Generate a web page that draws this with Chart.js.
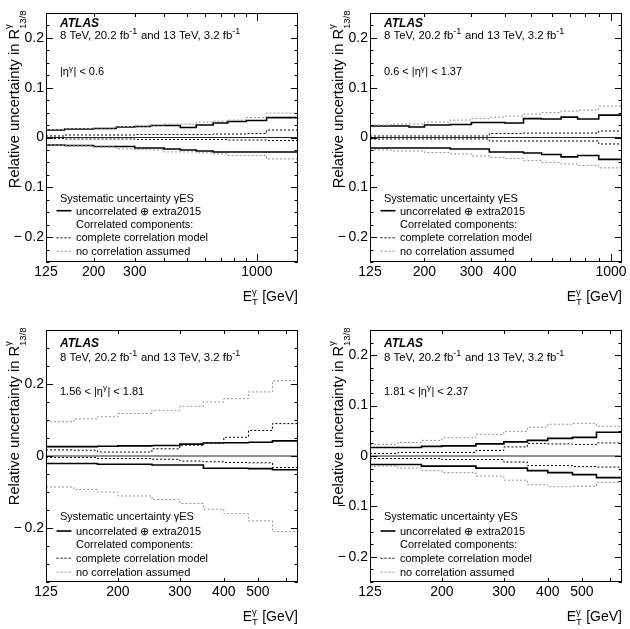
<!DOCTYPE html>
<html><head><meta charset="utf-8">
<script src="https://cdn.jsdelivr.net/npm/chart.js@4/dist/chart.umd.min.js"></script>
<style>
html,body{margin:0;padding:0;background:#fff;overflow:hidden}
#wrap{position:relative;width:630px;height:629px;background:#fff}
canvas{position:absolute}
</style></head><body><div id="wrap"></div>
<script>
// ---------------- data ----------------
const edgesP1 = [125,150,175,200,250,300,350,400,470,550,650,750,900,1100,1500];
const edgesP2 = [125,150,175,200,250,300,350,400,470,550,650,750,900,1100];
const edgesP34 = [125,150,175,200,250,300,350,400,470,550,650];

const p1UncUp = [0.015,0.017,0.017,0.018,0.021,0.022,0.024,0.024,0.020,0.025,0.029,0.032,0.034,0.040];
const p1UncDn = [-0.015,-0.016,-0.016,-0.018,-0.018,-0.021,-0.021,-0.023,-0.025,-0.027,-0.029,-0.029,-0.029,-0.029];
const p1CorUp = [0.003,0.005,0.005,0.005,0.005,0.006,0.006,0.006,0.006,0.006,0.007,0.007,0.008,0.015];
const p1CorDn = [-0.002,-0.003,-0.003,-0.003,-0.003,-0.004,-0.004,-0.004,-0.004,-0.004,-0.004,-0.005,-0.005,-0.006];
const p1NoUp  = [0.016,0.018,0.018,0.019,0.022,0.023,0.025,0.027,0.027,0.031,0.033,0.035,0.040,0.049];
const p1NoDn  = [-0.015,-0.017,-0.017,-0.019,-0.023,-0.024,-0.025,-0.029,-0.029,-0.031,-0.033,-0.036,-0.036,-0.043];

const p2UncUp = [0.023,0.023,0.021,0.025,0.026,0.030,0.030,0.029,0.038,0.037,0.041,0.037,0.045];
const p2UncDn = [-0.021,-0.021,-0.021,-0.021,-0.023,-0.023,-0.029,-0.029,-0.031,-0.034,-0.039,-0.036,-0.044];
const p2CorUp = [0.003,0.003,0.003,0.003,0.003,0.003,0.008,0.008,0.009,0.009,0.009,0.009,0.013];
const p2CorDn = [-0.003,-0.003,-0.003,-0.003,-0.003,-0.003,-0.007,-0.007,-0.007,-0.007,-0.007,-0.007,-0.013];
const p2NoUp  = [0.025,0.027,0.027,0.031,0.035,0.038,0.041,0.043,0.047,0.050,0.053,0.055,0.063];
const p2NoDn  = [-0.025,-0.027,-0.027,-0.030,-0.033,-0.037,-0.040,-0.042,-0.046,-0.050,-0.053,-0.056,-0.061];

const p3UncUp = [0.026,0.026,0.027,0.028,0.029,0.033,0.036,0.037,0.038,0.042];
const p3UncDn = [-0.021,-0.021,-0.023,-0.023,-0.025,-0.025,-0.034,-0.034,-0.035,-0.038];
const p3CorUp = [0.017,0.016,0.011,0.011,0.020,0.030,0.037,0.052,0.071,0.090];
const p3CorDn = [-0.004,-0.004,-0.007,-0.007,-0.009,-0.014,-0.016,-0.018,-0.019,-0.032];
const p3NoUp  = [0.095,0.103,0.109,0.118,0.127,0.138,0.150,0.159,0.178,0.209];
const p3NoDn  = [-0.086,-0.093,-0.100,-0.111,-0.121,-0.132,-0.148,-0.160,-0.180,-0.210];

const p4UncUp = [0.017,0.017,0.019,0.020,0.024,0.028,0.031,0.035,0.037,0.047];
const p4UncDn = [-0.017,-0.017,-0.020,-0.020,-0.024,-0.024,-0.029,-0.033,-0.037,-0.043];
const p4CorUp = [0.005,0.007,0.007,0.007,0.011,0.018,0.025,0.024,0.023,0.026];
const p4CorDn = [-0.005,-0.005,-0.005,-0.007,-0.007,-0.012,-0.019,-0.019,-0.021,-0.022];
const p4NoUp  = [0.023,0.027,0.031,0.036,0.043,0.049,0.057,0.063,0.065,0.059];
const p4NoDn  = [-0.020,-0.024,-0.029,-0.033,-0.040,-0.048,-0.057,-0.061,-0.060,-0.052];

const xTicksP1 = [125,200,300,1000];
const xTicksP2 = [125,200,300,400,1000];
const xTicksP34 = [125,200,300,400,500];
const xMinorP1 = [200,300,400,500,600,700,800,900,1000];
const xMinorP2 = [200,300,400,500,600,700,800,900,1000];
const xMinorP34 = [200,300,400,500,600];
const yTicksA = [-0.2,-0.1,0,0.1,0.2];
const yTicksB = [-0.2,0,0.2];

const etaLabels = [["|η","γ","| < 0.6"],["0.6 < |η","γ","| < 1.37"],["1.56 < |η","γ","| < 1.81"],["1.81 < |η","γ","| < 2.37"]];
const legendTexts = ["Systematic uncertainty γES","uncorrelated ⊕ extra2015","Correlated components:","complete correlation model","no correlation assumed"];

// ---------------- drawing ----------------
const FONT = "'Liberation Sans', Arial, Helvetica, sans-serif";
Chart.defaults.font.family = FONT;
const GRAY = '#939393';

function histPoints(edges, vals){
  const pts = vals.map((v,i)=>({x:edges[i], y:v}));
  pts.push({x:edges[edges.length-1], y:vals[vals.length-1]});
  return pts;
}
function f(size, style){ return (style||'') + ' ' + size + 'px ' + FONT; }

function drawRich(ctx, parts, x, y, align){
  const widths = parts.map(p=>{
    if (p.t !== undefined){ ctx.font = f(p.size,p.style); return ctx.measureText(p.t).width; }
    ctx.font = f(p.size); let w1 = p.sup?ctx.measureText(p.sup).width:0; let w2 = p.sub?ctx.measureText(p.sub).width:0;
    return Math.max(w1,w2)+0.5;
  });
  const total = widths.reduce((a,b)=>a+b,0);
  let cx = align==='right' ? x-total : x;
  parts.forEach((p,i)=>{
    if (p.t !== undefined){ ctx.font = f(p.size,p.style); ctx.fillText(p.t, cx, y); }
    else {
      ctx.font = f(p.size);
      if (p.sup) ctx.fillText(p.sup, cx, y + p.supDy);
      if (p.sub) ctx.fillText(p.sub, cx, y + p.subDy);
    }
    cx += widths[i];
  });
}

const atlasPlugin = {
  id:'atlas',
  afterDraw(chart){
    const o = chart.options.plugins.atlas;
    const ctx = chart.ctx, a = chart.chartArea;
    const xs = chart.scales.x, ys = chart.scales.y;
    ctx.save();
    ctx.strokeStyle = '#000'; ctx.fillStyle = '#000'; ctx.lineWidth = 1;
    ctx.strokeRect(a.left+0.5, a.top+0.5, a.right-a.left-1, a.bottom-a.top-1);
    ctx.beginPath();
    for (let v=o.ymin; v<=o.ymax+1e-9; v+=o.yMinorStep){
      const vv = Math.round(v/o.yMinorStep)*o.yMinorStep;
      const isMajor = o.yTicks.some(t=>Math.abs(t-vv)<1e-6);
      const len = isMajor ? 7 : 3.5;
      const py = Math.round(ys.getPixelForValue(vv))+0.5;
      ctx.moveTo(a.left, py); ctx.lineTo(a.left+len, py);
      ctx.moveTo(a.right, py); ctx.lineTo(a.right-len, py);
    }
    o.xMinor.forEach(v=>{
      if (v<=xs.min || v>=xs.max) return;
      const len = (v===1000) ? 8 : 4;
      const px = Math.round(xs.getPixelForValue(v))+0.5;
      ctx.moveTo(px, a.bottom); ctx.lineTo(px, a.bottom-len);
      ctx.moveTo(px, a.top); ctx.lineTo(px, a.top+len);
    });
    ctx.stroke();

    ctx.textBaseline = 'alphabetic'; ctx.textAlign = 'left';
    const tx = a.left + 14;
    ctx.font = f(12,'italic bold'); ctx.fillText('ATLAS', tx, o.ty[0]);
    drawRich(ctx, [{t:'8 TeV, 20.2 fb',size:11.4},{sup:'-1',size:9,supDy:-4.8},{t:' and 13 TeV, 3.2 fb',size:11.4},{sup:'-1',size:9,supDy:-4.8}], tx, o.ty[1]);
    const e = o.eta;
    drawRich(ctx, [{t:e[0],size:11},{sup:e[1],size:8,supDy:-4.5},{t:e[2],size:11}], tx, o.ty[2]);
    ctx.font = f(11);
    ctx.fillText(legendTexts[0], tx, o.ty[3]);
    const lx0 = a.left + 10.5, lx1 = a.left + 25.5, ltx = a.left + 30;
    ctx.fillText(legendTexts[1], ltx, o.ty[4]);
    ctx.fillText(legendTexts[2], ltx, o.ty[5]);
    ctx.fillText(legendTexts[3], ltx, o.ty[6]);
    ctx.fillText(legendTexts[4], ltx, o.ty[7]);
    const sample = (yy, color, lw, dash)=>{ ctx.beginPath(); ctx.setLineDash(dash); ctx.strokeStyle=color; ctx.lineWidth=lw; ctx.moveTo(lx0, yy); ctx.lineTo(lx1, yy); ctx.stroke(); };
    sample(o.ty[4]-4, '#000', 1.6, []);
    sample(o.ty[6]-4+0.5, '#000', 1, [2,2]);
    sample(o.ty[7]-4+0.5, GRAY, 1, [2,2]);
    ctx.setLineDash([]);
    ctx.fillStyle = '#000';
    drawRich(ctx, [{t:'E',size:14},{sup:'γ',sub:'T',size:9.5,supDy:-6,subDy:4},{t:' [GeV]',size:14}], a.right, a.bottom+38.5, 'right');
    ctx.save();
    ctx.translate(a.left-27.5, a.top-3);
    ctx.rotate(-Math.PI/2);
    drawRich(ctx, [{t:'Relative uncertainty in R',size:14.7},{sup:'γ',sub:'13/8',size:9.5,supDy:-7.5,subDy:7}], 0, 0, 'right');
    ctx.restore();
    ctx.restore();
  }
};

function mkDs(edges, vals, color, lw, dash){
  return {data: histPoints(edges, vals), borderColor: color, borderWidth: lw, borderDash: dash,
    stepped: true, pointRadius: 0, fill: false, tension: 0, borderCapStyle:'butt'};
}
function fmtY(v){ if (Math.abs(v)<1e-9) return '0'; return (v<0?'\u2212\u2009':'') + Math.abs(v).toFixed(1); }

const panels = [
  {x:0, y:0, w:315, h:315, area:{l:46,r:298,t:13,b:262}, edges:edgesP1, xmin:125, xmax:1500, ymin:-0.25, ymax:0.25,
   xTicks:xTicksP1, xMinor:xMinorP1, yTicks:yTicksA, yMinorStep:0.025, eta:etaLabels[0],
   s:[p1UncUp,p1UncDn,p1CorUp,p1CorDn,p1NoUp,p1NoDn], ty:[27,39,75,201.7,214.7,228,241.3,254.7]},
  {x:315, y:0, w:315, h:315, area:{l:55,r:307,t:13,b:262}, edges:edgesP2, xmin:125, xmax:1100, ymin:-0.25, ymax:0.25,
   xTicks:xTicksP2, xMinor:xMinorP2, yTicks:yTicksA, yMinorStep:0.025, eta:etaLabels[1],
   s:[p2UncUp,p2UncDn,p2CorUp,p2CorDn,p2NoUp,p2NoDn], ty:[27,39,75,201.7,214.7,228,241.3,254.7]},
  {x:0, y:315, w:315, h:314, area:{l:46,r:298,t:15,b:267}, edges:edgesP34, xmin:125, xmax:650, ymin:-0.35, ymax:0.35,
   xTicks:xTicksP34, xMinor:xMinorP34, yTicks:yTicksB, yMinorStep:0.05, eta:etaLabels[2],
   s:[p3UncUp,p3UncDn,p3CorUp,p3CorDn,p3NoUp,p3NoDn], ty:[32,46,79.5,205,220,233.3,246.7,260.7]},
  {x:315, y:315, w:315, h:314, area:{l:55,r:307,t:15,b:267}, edges:edgesP34, xmin:125, xmax:650, ymin:-0.25, ymax:0.25,
   xTicks:xTicksP34, xMinor:xMinorP34, yTicks:yTicksA, yMinorStep:0.025, eta:etaLabels[3],
   s:[p4UncUp,p4UncDn,p4CorUp,p4CorDn,p4NoUp,p4NoDn], ty:[32,46,79.5,205,220,233.3,246.7,260.7]}
];

const wrap = document.getElementById('wrap');
panels.forEach(P=>{
  const c = document.createElement('canvas');
  c.width = P.w; c.height = P.h; c.style.left = P.x+'px'; c.style.top = P.y+'px';
  c.style.width = P.w+'px'; c.style.height = P.h+'px';
  wrap.appendChild(c);
  const E = P.edges, S = P.s;
  const yW = P.area.l, xH = P.h - P.area.b;
  new Chart(c, {
    type:'line',
    data:{datasets:[
      mkDs(E, S[4], GRAY, 1, [2,2]),
      mkDs(E, S[5], GRAY, 1, [2,2]),
      mkDs(E, S[2], '#000', 1, [2,2]),
      mkDs(E, S[3], '#000', 1, [2,2]),
      {data:[{x:P.xmin,y:0},{x:P.xmax,y:0}], borderColor:'#222', borderWidth:1, pointRadius:0, fill:false},
      mkDs(E, S[0], '#000', 1.6, []),
      mkDs(E, S[1], '#000', 1.6, [])
    ]},
    options:{
      responsive:false, animation:false, devicePixelRatio:1, events:[],
      layout:{padding:{left:0, top:P.area.t, right:P.w-P.area.r, bottom:0}},
      plugins:{legend:{display:false}, tooltip:{enabled:false},
        atlas:{ymin:P.ymin, ymax:P.ymax, yTicks:P.yTicks, yMinorStep:P.yMinorStep, xMinor:P.xMinor, eta:P.eta, ty:P.ty}},
      scales:{
        x:{type:'logarithmic', min:P.xmin, max:P.xmax, bounds:'data',
           grid:{display:false, drawTicks:false}, border:{display:false},
           afterBuildTicks: s=>{ s.ticks = P.xTicks.map(v=>({value:v})); },
           afterFit: s=>{ s.height = xH; s.paddingLeft = 0; s.paddingRight = 0; },
           ticks:{autoSkip:false, maxRotation:0, minRotation:0, padding:2, color:'#000', font:{size:14}, callback:v=>String(v)}},
        y:{type:'linear', min:P.ymin, max:P.ymax, bounds:'data',
           grid:{display:false, drawTicks:false}, border:{display:false},
           afterBuildTicks: s=>{ s.ticks = P.yTicks.map(v=>({value:v})); },
           afterFit: s=>{ s.width = yW; s.paddingTop = 0; s.paddingBottom = 0; },
           ticks:{autoSkip:false, padding:2, color:'#000', font:{size:14}, callback:v=>fmtY(v)}}
      }
    },
    plugins:[atlasPlugin]
  });
});
</script></body></html>
